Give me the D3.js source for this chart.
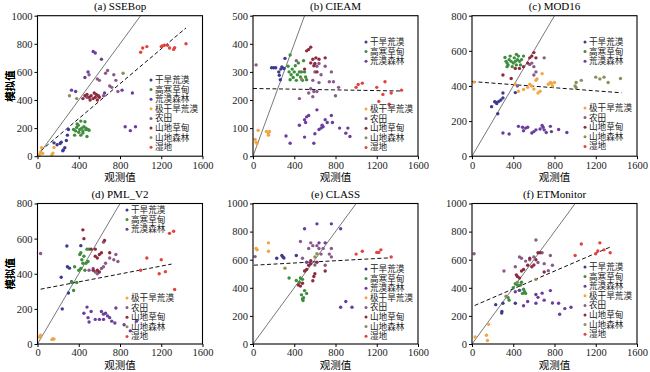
<!DOCTYPE html>
<html>
<head>
<meta charset="utf-8">
<script src="https://cdn.jsdelivr.net/npm/d3@7"></script>
<style>
  body { margin: 0; background: #fff; }
  svg { display: block; }
</style>
</head>
<body>
<svg></svg>
<script>
const categories = ["干旱荒漠", "高寒草甸", "荒漠森林", "极干旱荒漠", "农田", "山地草甸", "山地森林", "湿地"];
const colors = ["#3b3a8e", "#3e8e3e", "#6a3d9e", "#f3a544", "#8a5a8c", "#8e2a3e", "#8e8e5c", "#e0443f"];
const titles = ["(a) SSEBop", "(b) CIEAM", "(c) MOD16", "(d) PML_V2", "(e) CLASS", "(f) ETMonitor"];
const yMaxes = [1000, 500, 800, 800, 1000, 1000];
const yTickSteps = [200, 100, 200, 200, 200, 200];
const xTicks = [0, 400, 800, 1200, 1600];
// dashed regression line: [x0, y0, x1, y1]
const fitLines = [
  [30, 38, 1440, 913],
  [0, 241, 1440, 232],
  [0, 425, 1450, 361],
  [30, 312, 1300, 455],
  [10, 561, 1340, 614],
  [26, 274, 1340, 690]
];

// points: [category index, observed, simulated]
const ssebop = [
  [0,160,95],[0,190,82],[0,230,100],[0,250,45],[0,245,38],[0,280,112],[0,290,150],[0,300,190],[0,220,90],[0,265,60],
  [1,350,190],[1,360,150],[1,370,180],[1,380,205],[1,385,230],[1,395,220],[1,400,170],[1,410,190],[1,420,150],[1,430,200],
  [1,440,180],[1,450,210],[1,460,245],[1,470,190],[1,480,140],[1,490,190],[1,500,185],[1,420,250],[1,470,200],[1,440,165],
  [3,10,5],[3,20,12],[3,30,30],[3,40,60],[3,50,20],[3,140,10],[3,150,22],[3,160,62],
  [2,850,210],[2,900,182],[2,950,210],[2,330,470],[2,370,460],[2,460,560],[2,490,600],[2,540,745],[2,560,735],[2,620,690],
  [2,920,450],[2,820,470],[2,650,450],
  [4,480,420],[4,500,580],[4,580,550],[4,600,540],[4,660,590],[4,680,610],[4,700,500],[4,740,580],[4,760,540],[4,780,460],[4,640,430],[4,720,490],
  [5,440,410],[5,460,430],[5,480,440],[5,500,420],[5,520,430],[5,540,410],[5,560,420],[5,570,440],[5,580,400],[5,600,420],[5,510,400],[5,550,450],[5,590,430],
  [6,310,430],[6,380,410],[6,830,590],
  [7,1000,740],[7,1020,770],[7,1060,780],[7,1200,780],[7,1210,785],[7,1230,790],[7,1260,790],[7,1280,770],[7,1320,760],[7,1330,772],[7,1440,800]
];
const cieam = [
  [0,180,315],[0,200,315],[0,220,315],[0,250,300],[0,255,288],[0,270,310],[0,280,318],[0,300,312],[0,310,348],[0,265,272],
  [1,340,320],[1,350,300],[1,360,360],[1,370,290],[1,380,310],[1,390,280],[1,400,300],[1,410,322],[1,420,270],[1,430,290],
  [1,440,332],[1,450,300],[1,460,282],[1,470,300],[1,480,270],[1,490,340],[1,500,300],[1,510,282],[1,520,272],[1,360,272],
  [2,320,72],[2,360,46],[2,450,110],[2,500,130],[2,510,120],[2,520,140],[2,540,145],[2,590,46],[2,600,80],[2,620,165],
  [2,640,95],[2,660,100],[2,670,110],[2,680,105],[2,700,130],[2,720,120],[2,760,145],[2,770,120],[2,840,100],[2,900,82],
  [2,920,100],[2,940,70],[2,500,68],
  [3,20,60],[3,30,50],[3,40,45],[3,50,92],[3,130,88],[3,150,80],[3,160,88],[3,150,75],
  [4,30,325],[4,420,340],[4,580,270],[4,600,300],[4,620,320],[4,640,330],[4,660,290],[4,700,320],[4,740,265],[4,760,300],
  [4,780,265],[4,800,215],[4,830,245],[4,450,205],[4,580,212],[4,590,230],[4,620,230],[4,640,262],[4,540,225],[4,560,240],
  [5,520,375],[5,540,380],[5,560,388],[5,580,345],[5,600,330],[5,610,350],[5,590,322],[5,620,300],[5,700,350],[5,500,310],[5,560,332],[5,640,345],
  [6,470,275],
  [7,1000,245],[7,1020,255],[7,1060,260],[7,1200,245],[7,1220,195],[7,1260,220],[7,1280,265],[7,1320,185],[7,1340,225],[7,1440,235]
];
const mod16 = [
  [0,190,282],[0,220,310],[0,240,300],[0,250,242],[0,260,312],[0,280,320],[0,300,360],[0,300,332],[0,420,362],[0,230,308],
  [1,320,562],[1,330,540],[1,340,530],[1,350,520],[1,360,550],[1,370,570],[1,380,540],[1,390,510],[1,400,530],[1,410,560],
  [1,420,540],[1,430,520],[1,440,550],[1,450,570],[1,460,540],[1,470,520],[1,480,550],[1,500,570],[1,340,510],[1,430,580],
  [3,20,422],[3,420,410],[3,450,370],[3,500,380],[3,540,392],[3,580,400],[3,620,432],[3,640,360],[3,660,370],[3,680,470],
  [3,740,410],[3,760,420],[3,780,400],[3,800,420],[3,560,410],[3,600,382],[3,630,440],[3,770,415],
  [2,300,132],[2,360,126],[2,450,170],[2,490,165],[2,500,145],[2,520,160],[2,540,165],[2,580,132],[2,600,140],[2,620,150],
  [2,660,155],[2,680,175],[2,690,165],[2,700,150],[2,720,135],[2,760,170],[2,770,140],[2,840,152],[2,920,135],
  [4,580,530],[4,600,510],[4,620,480],[4,600,462],[4,560,522],[4,700,560],[4,440,400],
  [5,300,462],[5,380,442],[5,460,500],[5,500,510],[5,540,530],[5,560,560],[5,600,590],[5,620,560],[5,580,570],[5,420,500],
  [6,1000,400],[6,1010,420],[6,1060,432],[6,1200,450],[6,1240,440],[6,1280,450],[6,1320,420],[6,1440,442],[6,1010,390]
];
const pml = [
  [0,230,380],[0,240,200],[0,285,558],[0,300,290],[0,290,440],[0,310,432],[0,420,560],[0,330,355],
  [1,330,350],[1,350,305],[1,360,440],[1,380,350],[1,400,420],[1,410,510],[1,420,520],[1,430,480],[1,440,460],[1,460,420],
  [1,470,460],[1,480,540],[1,490,470],[1,500,540],[1,420,430],[1,450,500],
  [3,20,40],[3,30,50],[3,140,25],[3,150,30],[3,160,28],
  [2,450,175],[2,480,210],[2,490,150],[2,500,125],[2,520,185],[2,560,140],[2,600,140],[2,620,185],[2,640,170],[2,660,175],
  [2,680,160],[2,700,150],[2,720,130],[2,760,205],[2,750,120],[2,840,110],[2,900,75],[2,960,130],[2,640,140],
  [4,30,515],[4,540,430],[4,560,410],[4,580,400],[4,620,430],[4,640,440],[4,660,460],[4,700,490],[4,740,480],[4,760,510],[4,780,470],[4,640,580],[4,500,420],
  [5,440,650],[5,450,600],[5,520,540],[5,560,500],[5,580,490],[5,600,510],[5,620,520],[5,650,590],[5,700,520],[5,560,540],[5,580,420],[5,600,410],[5,540,420],
  [7,1000,420],[7,1060,490],[7,1180,400],[7,1200,480],[7,1240,412],[7,1280,630],[7,1320,642],[7,1330,310]
];
const classm = [
  [0,230,610],[0,280,630],[0,290,620],[0,420,630],[0,300,612],
  [1,350,470],[1,420,452],[1,450,440],[1,460,470],[1,470,350],[1,480,320],[1,485,310],[1,490,330],[1,500,380],[1,520,360],[1,480,460],
  [3,30,680],[3,150,720],[3,150,660],[3,40,670],
  [2,500,820],[2,620,855],[2,760,855],[2,850,820],[2,850,262],[2,900,302],[2,960,262],[2,640,720],[2,700,720],[2,520,582],
  [4,20,622],[4,460,730],[4,480,610],[4,540,680],[4,560,720],[4,580,700],[4,600,562],[4,620,700],[4,640,680],[4,660,640],
  [4,680,680],[4,700,560],[4,740,640],[4,760,680],[4,760,620],
  [5,440,420],[5,460,412],[5,480,432],[5,500,520],[5,520,530],[5,540,560],[5,560,572],[5,580,450],[5,590,480],[5,600,500],[5,620,582],[5,700,520],[5,560,592],
  [6,310,540],[6,600,620],[6,620,642],
  [7,1000,640],[7,1060,660],[7,1200,652],[7,1220,652],[7,1240,670],[7,1340,620]
];
const etmonitor = [
  [0,230,280],[0,290,232],[0,288,220],[0,300,290],[0,420,290],
  [1,350,330],[1,360,312],[1,400,400],[1,420,430],[1,440,420],[1,460,382],[1,480,440],[1,490,360],[1,500,390],[1,510,372],[1,520,360],[1,470,420],
  [3,30,50],[3,140,62],[3,150,25],[3,160,140],
  [2,420,372],[2,460,382],[2,500,272],[2,540,302],[2,620,352],[2,640,332],[2,680,362],[2,700,312],[2,760,380],[2,780,292],
  [2,840,290],[2,850,212],[2,900,252],[2,960,262],[2,620,290],
  [4,20,642],[4,310,520],[4,420,550],[4,460,620],[4,480,610],[4,520,590],[4,560,600],[4,600,620],[4,620,740],[4,640,580],
  [4,680,650],[4,700,572],[4,740,522],[4,760,630],[4,780,560],
  [5,430,492],[5,440,480],[5,460,470],[5,480,520],[5,500,530],[5,540,560],[5,560,610],[5,580,550],[5,600,562],[5,620,600],[5,640,650],[5,660,650],[5,700,512],
  [6,330,340],[6,440,440],[6,620,460],
  [7,1000,630],[7,1060,712],[7,1200,642],[7,1220,662],[7,1240,720],[7,1280,670],[7,1340,650]
];
const panelData = [ssebop, cieam, mod16, pml, classm, etmonitor];
// legend layout: category indices per group and first row y
const legendGroups = [
  [{rows: [0,1,2,3,4,5,6,7], y: 80}],
  [{rows: [0,1,2], y: 42}, {rows: [3,4,5,6,7], y: 109}],
  [{rows: [0,1,2], y: 42}, {rows: [3,4,5,6,7], y: 108}],
  [{rows: [0,1,2], y: 210}, {rows: [3,4,5,6,7], y: 298}],
  [{rows: [0,1,2,3,4,5,6,7], y: 269}],
  [{rows: [0,1,2,3,4,5,6,7], y: 267}]
];
const legendX = [151, 366, 585, 127, 366, 585];

function main() {
  const width = 650, height = 372;
  const pw = 165, ph = 140.5;
  const lefts = [37.5, 253, 472];
  const tops = [15.7, 203.5];
  const rowH = 9.6;
  const numFont = "'Liberation Serif', 'Times New Roman', serif";
  const cjkFont = "'Noto Sans CJK SC', 'Noto Sans', sans-serif";
  // serif first so the legend rows keep a compact line box
  const legendFont = "'Liberation Serif', 'Noto Sans CJK SC', serif";

  const svg = d3.select("svg").attr("width", width).attr("height", height);

  panelData.forEach((pts, i) => {
    const ox = lefts[i % 3], oy = tops[Math.floor(i / 3)];
    const g = svg.append("g").attr("transform", `translate(${ox},${oy})`);
    const x = d3.scaleLinear().domain([0, 1600]).range([0, pw]);
    const y = d3.scaleLinear().domain([0, yMaxes[i]]).range([ph, 0]);

    g.append("clipPath").attr("id", "clip" + i)
      .append("rect").attr("width", pw).attr("height", ph);

    // 1:1 line
    g.append("line")
      .attr("clip-path", `url(#clip${i})`)
      .attr("x1", x(0)).attr("y1", y(0))
      .attr("x2", x(yMaxes[i])).attr("y2", y(yMaxes[i]))
      .attr("stroke", "#555").attr("stroke-width", 0.8);

    // fit line
    const f = fitLines[i];
    g.append("line")
      .attr("x1", x(f[0])).attr("y1", y(f[1]))
      .attr("x2", x(f[2])).attr("y2", y(f[3]))
      .attr("stroke", "#111").attr("stroke-width", 1)
      .attr("stroke-dasharray", "4,2.5");

    // points
    g.selectAll("circle.pt")
      .data(pts)
      .enter()
      .append("circle")
      .attr("class", "pt")
      .attr("cx", d => x(d[1]))
      .attr("cy", d => y(d[2]))
      .attr("r", 1.7)
      .attr("fill", d => colors[d[0]]);

    // axes
    const yTicks = d3.range(0, yMaxes[i] + 1, yTickSteps[i]);
    const xAxis = g.append("g").attr("transform", `translate(0,${ph})`)
      .call(d3.axisBottom(x).tickValues(xTicks).tickFormat(d3.format("d")).tickSize(3).tickPadding(2));
    const yAxis = g.append("g")
      .call(d3.axisLeft(y).tickValues(yTicks).tickFormat(d3.format("d")).tickSize(3).tickPadding(2));
    [xAxis, yAxis].forEach(a => {
      a.select(".domain").remove();
      a.selectAll("line").attr("stroke", "#000");
      a.selectAll("text").attr("font-family", numFont).attr("font-size", 10.5).attr("fill", "#222");
    });

    // frame
    g.append("rect")
      .attr("width", pw).attr("height", ph)
      .attr("fill", "none").attr("stroke", "#000").attr("stroke-width", 1.1);

    // title
    g.append("text")
      .attr("x", pw / 2).attr("y", -6)
      .attr("text-anchor", "middle")
      .attr("font-family", numFont).attr("font-size", 11)
      .text(titles[i]);

    // axis labels
    g.append("text")
      .attr("x", pw / 2).attr("y", ph + 25)
      .attr("text-anchor", "middle")
      .attr("font-family", cjkFont).attr("font-size", 10.5)
      .text("观测值");
    g.append("text")
      .attr("transform", `translate(${-ox + 13.5},${ph / 2}) rotate(-90)`)
      .attr("text-anchor", "middle")
      .attr("font-family", cjkFont).attr("font-size", 10.5)
      .text("模拟值");

    // legend
    legendGroups[i].forEach(grp => {
      grp.rows.forEach((c, k) => {
        const ly = grp.y + k * rowH;
        svg.append("circle")
          .attr("cx", legendX[i]).attr("cy", ly)
          .attr("r", 1.5).attr("fill", colors[c]);
        svg.append("text")
          .attr("x", legendX[i] + 4).attr("y", ly)
          .attr("dy", "0.36em")
          .attr("font-family", legendFont).attr("font-size", 8.6)
          .attr("fill", "#222")
          .text(categories[c]);
      });
    });
  });
}
main();
</script>
</body>
</html>
